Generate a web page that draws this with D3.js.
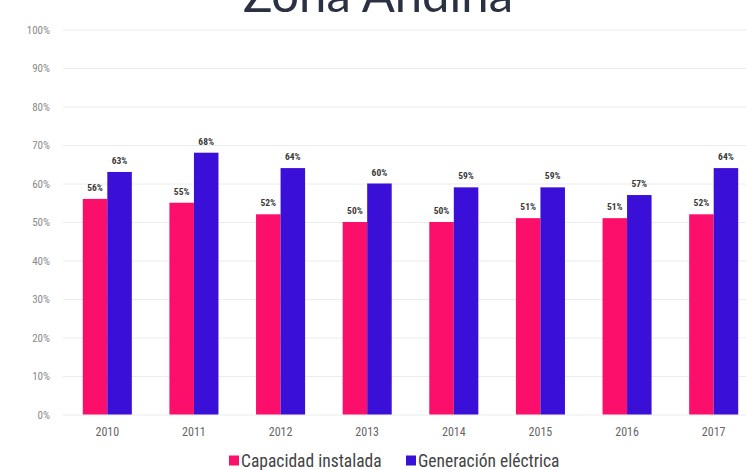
<!DOCTYPE html>
<html>
<head>
<meta charset="utf-8">
<script src="https://cdn.jsdelivr.net/npm/d3@7"></script>
<style>
  html, body { margin: 0; padding: 0; background: #ffffff; }
  svg { display: block; }
  .cond { font-family: "Liberation Sans Narrow", "Roboto Condensed", "DejaVu Sans Condensed", "Arial Narrow", sans-serif; }
</style>
</head>
<body>
<svg id="chart" width="746" height="470"></svg>
<script>
// Participación de la Zona Andina, 2010–2017 (%)
const years = ["2010", "2011", "2012", "2013", "2014", "2015", "2016", "2017"];
const capacidadInstalada = [56, 55, 52, 50, 50, 51, 51, 52];
const generacionElectrica = [63, 68, 64, 60, 59, 59, 57, 64];
const seriesNames = ["Capacidad instalada", "Generación eléctrica"];
const seriesColors = ["#fb0f6a", "#3a0fd8"];
const yTicks = [0, 10, 20, 30, 40, 50, 60, 70, 80, 90, 100];
const title = "Zona Andina";

const svg = d3.select("#chart");

const x0 = d3.scaleBand()
  .domain(years)
  .range([64, 757])
  .paddingInner(0.434)
  .paddingOuter(0.217);

const x1 = d3.scaleBand()
  .domain(seriesNames)
  .range([0, x0.bandwidth()]);

const y = d3.scaleLinear()
  .domain([0, 100])
  .range([414.5, 29.5]);

const color = d3.scaleOrdinal().domain(seriesNames).range(seriesColors);

// Title, sitting high so that only its lower part shows at the top edge
svg.append("text")
  .attr("x", 378)
  .attr("y", 12)
  .attr("text-anchor", "middle")
  .attr("font-family", "Lato, 'Open Sans', sans-serif")
  .attr("font-size", 49)
  .attr("fill", "#2a3142")
  .text(title);

// Horizontal gridlines + y labels
const yAxis = d3.axisLeft(y)
  .tickValues(yTicks)
  .tickSize(-(746 - 63))
  .tickPadding(13)
  .tickFormat(d => d + "%");

const gy = svg.append("g")
  .attr("class", "cond")
  .attr("transform", "translate(63,0)")
  .call(yAxis);
gy.select(".domain").remove();
gy.selectAll(".tick line").attr("stroke", "#ececec").attr("stroke-width", 1);
gy.selectAll(".tick text")
  .attr("fill", "#8a8a8a")
  .attr("font-size", 11)
  .attr("font-family", null);

// X axis labels
const xAxis = d3.axisBottom(x0).tickSize(0).tickPadding(13);
const gx = svg.append("g")
  .attr("class", "cond")
  .attr("transform", "translate(0,414.5)")
  .call(xAxis);
gx.select(".domain").remove();
gx.selectAll(".tick text")
  .attr("fill", "#666")
  .attr("font-size", 12)
  .attr("font-family", null);

// Bars
const rows = years.map((yr, i) => ({
  year: yr,
  values: [
    { key: seriesNames[0], value: capacidadInstalada[i] },
    { key: seriesNames[1], value: generacionElectrica[i] }
  ]
}));

const groups = svg.append("g").selectAll("g")
  .data(rows)
  .join("g")
  .attr("transform", d => `translate(${x0(d.year)},0)`);

groups.selectAll("rect")
  .data(d => d.values)
  .join("rect")
  .attr("x", d => x1(d.key))
  .attr("y", d => y(d.value))
  .attr("width", x1.bandwidth())
  .attr("height", d => y(0) - y(d.value))
  .attr("fill", d => color(d.key));

groups.selectAll("text")
  .data(d => d.values)
  .join("text")
  .attr("class", "cond")
  .attr("x", d => x1(d.key) + x1.bandwidth() / 2)
  .attr("y", d => y(d.value) - 8)
  .attr("text-anchor", "middle")
  .attr("font-size", 9.5)
  .attr("font-weight", "bold")
  .attr("fill", "#3a3a3a")
  .text(d => d.value + "%");

// Legend
const legendX = [229, 406];
const legend = svg.append("g").attr("class", "cond");
seriesNames.forEach((name, i) => {
  legend.append("rect")
    .attr("x", legendX[i])
    .attr("y", 455.5)
    .attr("width", 10)
    .attr("height", 10)
    .attr("fill", seriesColors[i]);
  legend.append("text")
    .attr("x", legendX[i] + 12)
    .attr("y", 467)
    .attr("font-size", 17.5)
    .attr("fill", "#444")
    .text(name);
});
</script>
</body>
</html>
